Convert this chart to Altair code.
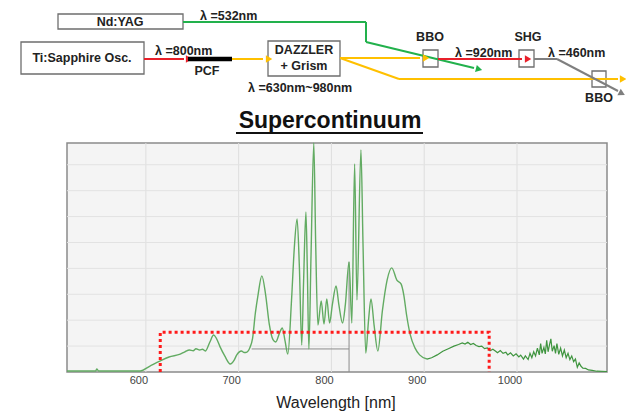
import altair as alt
import pandas as pd

# ---------------- spectrum ----------------
wavelength = [515, 546, 547, 549, 594, 604, 615, 625, 637, 642, 647, 651, 654, 658, 661, 664,
              669, 673, 676, 680, 685, 691, 695, 698, 703, 706, 709, 712, 715, 718, 721, 725,
              729, 733, 737, 740, 744, 747, 750, 753, 757, 760, 763, 765.5, 768, 770, 772.5,
              774, 775.7, 778, 781, 783, 785.4, 789, 792, 795, 798, 801, 805, 808, 812, 815,
              819, 822, 825, 827.5, 831.8, 834, 837, 840, 842.6, 846, 850, 855, 860, 865,
              870.5, 875, 878, 881, 885, 890, 895, 903]
intensity = [0.04, 0.04, 0.12, 0.04, 0.04, 0.22, 0.42, 0.58, 0.69, 0.78, 0.85, 0.82, 0.90, 0.85, 0.88, 0.81,
             1.16, 1.43, 1.30, 0.97, 0.62, 0.31, 0.45, 0.66, 0.81, 0.75, 0.77, 0.93, 1.30, 2.27, 3.00, 3.71,
             3.00, 1.85, 1.25, 1.16, 1.50, 1.70, 1.20, 0.69, 2.78, 4.80, 5.91, 4.00, 1.04, 3.50, 6.18,
             4.00, 0.89, 4.50, 8.84, 5.00, 1.81, 2.74, 1.85, 2.82, 1.89, 2.60, 3.32, 2.60, 1.89, 2.60,
             4.25, 1.89, 8.03, 2.78, 8.57, 5.00, 0.73, 2.00, 2.82, 1.80, 0.81, 2.39, 3.55, 4.02,
             3.55, 3.40, 2.97, 2.20, 1.43, 0.93, 0.66, 0.50]
tail_wavelength = [903, 908, 914, 920, 926, 932, 937, 941, 944, 947, 950, 953, 956, 959, 962, 965,
                   968, 971, 974, 977, 979, 982, 985, 988, 990, 993, 996, 999, 1002, 1004, 1007,
                   1009, 1012, 1014, 1016, 1018, 1020, 1022, 1024, 1025.5, 1027, 1029, 1030.5,
                   1032, 1033.5, 1035, 1036.5, 1038, 1040, 1041.5, 1043, 1045, 1047, 1049, 1051,
                   1053, 1055, 1057, 1059, 1061, 1063, 1065, 1067, 1069, 1071, 1074, 1077, 1081,
                   1086, 1097]
tail_intensity = [0.50, 0.55, 0.66, 0.80, 0.90, 1.00, 1.06, 1.12, 1.08, 1.15, 1.06, 1.10, 1.02, 0.98, 1.00, 0.90,
                  0.93, 0.82, 0.88, 0.80, 0.74, 0.83, 0.72, 0.76, 0.66, 0.74, 0.62, 0.70, 0.58, 0.65, 0.50,
                  0.62, 0.48, 0.72, 0.55, 0.78, 0.62, 0.92, 0.66, 1.10, 0.72, 0.95, 0.70,
                  1.22, 0.78, 1.05, 1.28, 0.80, 1.02, 0.72, 1.10, 0.68, 0.92, 0.62, 0.85,
                  0.55, 0.72, 0.48, 0.62, 0.40, 0.50, 0.18, 0.35, 0.22, 0.15, 0.14, 0.08, 0.06,
                  0.03, 0.02]

x_ticks = [600, 700, 800, 900, 1000]
y_grid = [1, 2, 3, 4, 5, 6, 7, 8]
x_domain = [515, 1097]
y_domain = [0, 8.84]

window_wl = [615.5, 615.5, 970, 970]
window_val = [0, 1.53, 1.53, 0]

cursor_x1 = [819, 714]
cursor_x2 = [819, 819]
cursor_y1 = [0, 0.89]
cursor_y2 = [4.25, 0.89]

# ---------------- setup diagram (page coordinates) ----------------
box_x1 = [58, 21, 268, 423, 519, 592]
box_x2 = [183, 144, 340, 438, 534, 606]
box_y1 = [14, 42, 41, 50, 50, 71]
box_y2 = [29, 74, 76, 67, 67, 87]

box_text = ["Nd:YAG", "Ti:Sapphire Osc.", "DAZZLER", "+ Grism", "PCF", "BBO", "SHG", "BBO"]
box_text_x = [120, 82, 304, 304, 207, 430, 528, 599]
box_text_y = [22, 58, 50, 66, 71, 37, 37, 98]

lambda_text = ["λ =532nm", "λ =800nm", "λ =630nm~980nm", "λ =920nm", "λ =460nm"]
lambda_x = [200, 155, 248, 455, 548]
lambda_y = [16, 51, 88, 53, 53]

beam_names = ["green", "green", "green", "red", "red", "yellow", "yellow", "yellow", "yellow", "gray", "gray"]
beam_x1 = [183, 366, 366, 144, 438, 232, 340, 340, 399, 534, 557]
beam_y1 = [22, 22, 42, 59, 59, 59, 58, 58, 79, 59, 59]
beam_x2 = [366, 366, 474, 184, 522, 263, 420, 399, 618, 557, 618]
beam_y2 = [22, 42, 68, 59, 59, 59, 58, 79, 79, 59, 91]

head_names = ["red", "yellow", "yellow", "red", "yellow", "green", "gray"]
head_x = [188, 268, 425, 527, 622, 478, 621]
head_y = [59, 59, 58, 59, 79, 69, 93]
head_angle = [90, 90, 90, 90, 90, 104, 117]

pcf_x = [188, 232]
pcf_y = [59, 59]

title_text = ["Supercontinuum"]
title_x = [330]
title_y = [121]
underline_x = [236, 423]
underline_y = [133, 133]
xlabel_text = ["Wavelength [nm]"]
xlabel_x = [336]
xlabel_y = [403]

beam_colors = {"green": "#22b14c", "red": "#e8202a", "yellow": "#ffc000", "gray": "#7f7f7f"}

FONT = "Liberation Sans"

# ---------------- scales ----------------
SX = alt.Scale(domain=x_domain, range=[59, 599], nice=False, zero=False)
SY = alt.Scale(domain=y_domain, range=[364, 135], nice=False, zero=False)
DX = alt.Scale(domain=[8, 626], range=[0, 618], nice=False, zero=False)
DY = alt.Scale(domain=[8, 412], range=[0, 404], nice=False, zero=False)


def sx(f):
    return alt.X(f, type="quantitative", scale=SX, axis=None)


def sy(f):
    return alt.Y(f, type="quantitative", scale=SY, axis=None)


def dx(f):
    return alt.X(f, type="quantitative", scale=DX, axis=None)


def dy(f):
    return alt.Y(f, type="quantitative", scale=DY, axis=None)


layers = []

# plot background + frame
bg = pd.DataFrame({"x1": [x_domain[0]], "x2": [x_domain[1]], "y1": [y_domain[0]], "y2": [y_domain[1]]})
layers.append(alt.Chart(bg).mark_rect(fill="#f4f4f4", stroke="#8a8a8a", strokeWidth=1.5).encode(
    x=sx("x1"), x2="x2", y=sy("y1"), y2="y2"))

# grid
vg = pd.DataFrame({"x": x_ticks, "y1": [y_domain[0]] * len(x_ticks), "y2": [y_domain[1]] * len(x_ticks)})
layers.append(alt.Chart(vg).mark_rule(color="#dedede", strokeWidth=1).encode(
    x=sx("x"), y=sy("y1"), y2="y2"))
hg = pd.DataFrame({"y": y_grid, "x1": [x_domain[0]] * len(y_grid), "x2": [x_domain[1]] * len(y_grid)})
layers.append(alt.Chart(hg).mark_rule(color="#e2e2e2", strokeWidth=1).encode(
    y=sy("y"), x=sx("x1"), x2="x2"))

# cursor crosshair
cur = pd.DataFrame({"x1": cursor_x1, "x2": cursor_x2, "y1": cursor_y1, "y2": cursor_y2})
layers.append(alt.Chart(cur).mark_rule(color="#8c8c8c", strokeWidth=1).encode(
    x=sx("x1"), x2="x2", y=sy("y1"), y2="y2"))

# spectrum
spec = pd.DataFrame({"wl": wavelength, "v": intensity})
layers.append(alt.Chart(spec).mark_line(color="#62ab62", strokeWidth=1.4, interpolate="monotone").encode(
    x=sx("wl"), y=sy("v")))
tail = pd.DataFrame({"wl": tail_wavelength, "v": tail_intensity})
layers.append(alt.Chart(tail).mark_line(color="#3f953f", strokeWidth=1.2).encode(
    x=sx("wl"), y=sy("v")))

# red dotted window
win = pd.DataFrame({"wl": window_wl, "v": window_val, "o": list(range(len(window_wl)))})
layers.append(alt.Chart(win).mark_line(color="#ff1a1a", strokeWidth=3, strokeDash=[3, 3]).encode(
    x=sx("wl"), y=sy("v"), order="o:Q"))

# tick labels
tl = pd.DataFrame({"x": x_ticks, "t": [str(t) for t in x_ticks]})
layers.append(alt.Chart(tl).mark_text(font=FONT, fontSize=11, color="#444444", dx=-7, baseline="middle").encode(
    x=sx("x"), y=alt.value(373), text="t:N"))

# ---------------- diagram ----------------
bx = pd.DataFrame({"x1": box_x1, "x2": box_x2, "y1": box_y1, "y2": box_y2})
layers.append(alt.Chart(bx).mark_rect(fill="white", stroke="#6e6e6e", strokeWidth=1.3).encode(
    x=dx("x1"), x2="x2", y=dy("y1"), y2="y2"))

beams = pd.DataFrame({"c": beam_names, "x1": beam_x1, "y1": beam_y1, "x2": beam_x2, "y2": beam_y2})
layers.append(alt.Chart(beams).mark_rule(strokeWidth=2).encode(
    x=dx("x1"), x2="x2", y=dy("y1"), y2="y2",
    color=alt.Color("c:N", scale=alt.Scale(domain=list(beam_colors.keys()), range=list(beam_colors.values())), legend=None)))

heads = pd.DataFrame({"c": head_names, "x": head_x, "y": head_y, "a": head_angle})
layers.append(alt.Chart(heads).mark_point(shape="triangle", filled=True, size=55, opacity=1).encode(
    x=dx("x"), y=dy("y"), angle=alt.Angle("a:Q", scale=None),
    color=alt.Color("c:N", scale=alt.Scale(domain=list(beam_colors.keys()), range=list(beam_colors.values())), legend=None)))

pcf = pd.DataFrame({"x": pcf_x, "y": pcf_y})
layers.append(alt.Chart(pcf).mark_line(color="black", strokeWidth=4.5).encode(x=dx("x"), y=dy("y")))

bt = pd.DataFrame({"t": box_text, "x": box_text_x, "y": box_text_y})
layers.append(alt.Chart(bt).mark_text(font=FONT, fontSize=12.5, fontWeight="bold", color="#222222", baseline="middle").encode(
    x=dx("x"), y=dy("y"), text="t:N"))

lt = pd.DataFrame({"t": lambda_text, "x": lambda_x, "y": lambda_y})
layers.append(alt.Chart(lt).mark_text(font=FONT, fontSize=12.5, fontWeight="bold", color="#222222", align="left", baseline="middle").encode(
    x=dx("x"), y=dy("y"), text="t:N"))

tt = pd.DataFrame({"t": title_text, "x": title_x, "y": title_y})
layers.append(alt.Chart(tt).mark_text(font=FONT, fontSize=23, fontWeight="bold", color="#111111", baseline="middle").encode(
    x=dx("x"), y=dy("y"), text="t:N"))
ul = pd.DataFrame({"x": underline_x, "y": underline_y})
layers.append(alt.Chart(ul).mark_line(color="#111111", strokeWidth=2.2).encode(x=dx("x"), y=dy("y")))

xt = pd.DataFrame({"t": xlabel_text, "x": xlabel_x, "y": xlabel_y})
layers.append(alt.Chart(xt).mark_text(font=FONT, fontSize=16, color="#222222", baseline="middle").encode(
    x=dx("x"), y=dy("y"), text="t:N"))

chart = alt.layer(*layers).resolve_scale(
    x="independent", y="independent", color="independent", angle="independent"
).properties(
    width=618, height=404, padding=0, background="white", autosize="none"
).configure_view(stroke=None)

chart.save("out.html", embed_options={"renderer": "svg", "actions": False})
